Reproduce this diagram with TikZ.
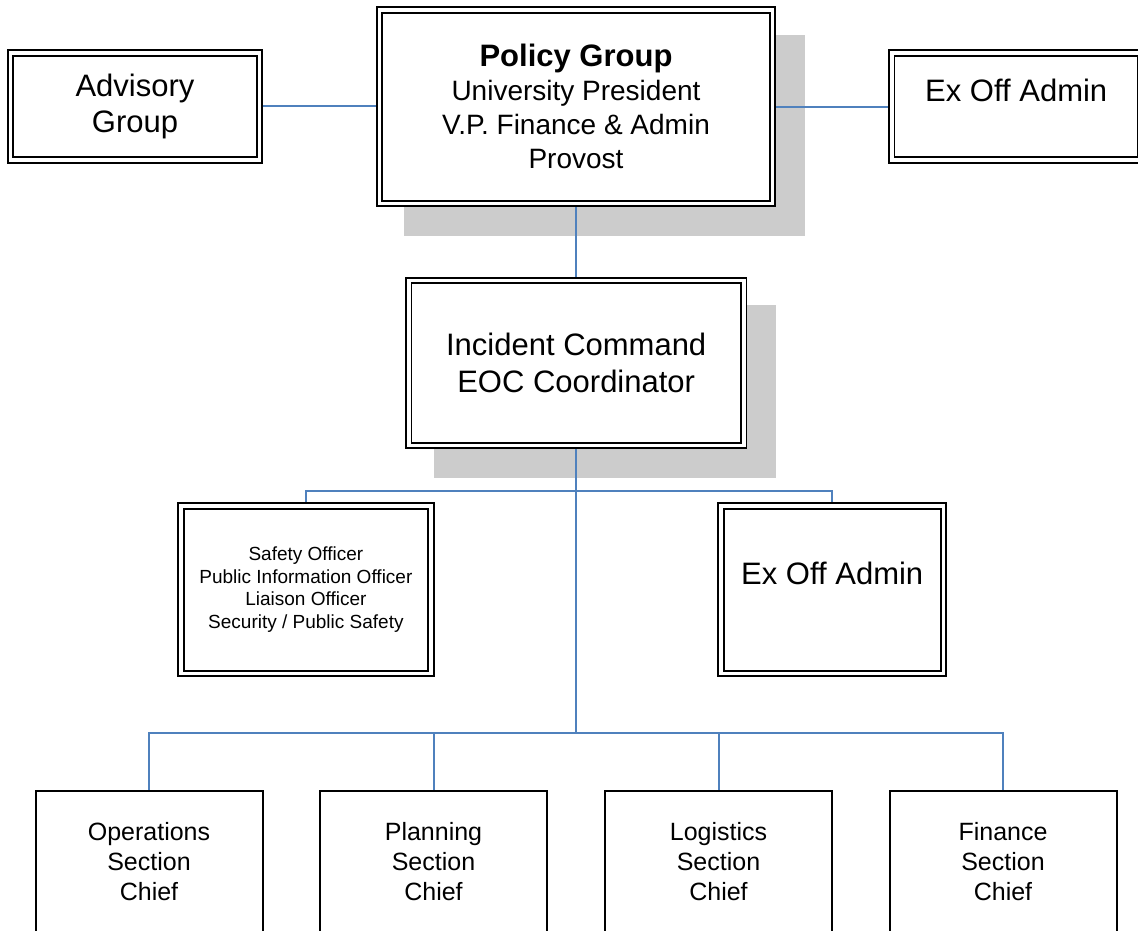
\documentclass[tikz,border=0pt]{standalone}
\usepackage{fontspec}
\setmainfont{Liberation Sans}
\definecolor{linkblue}{RGB}{79,129,189}
\definecolor{shadowgray}{RGB}{204,204,204}
\pgfdeclarelayer{shadowlayer}
\pgfdeclarelayer{linelayer}
\pgfsetlayers{shadowlayer,linelayer,main}
\begin{document}
\begin{tikzpicture}[x=1pt,y=-1pt,
  dbox/.style={draw=black, double=white, line width=1.9pt, double distance=3.6pt,
    fill=white, inner sep=0pt, outer sep=0pt, align=center},
  sbox/.style={draw=black, line width=2pt, fill=white, inner sep=0pt, outer sep=0pt,
    align=center, minimum width=227pt, minimum height=142pt,
    font=\fontsize{25}{30}\selectfont},
  link/.style={draw=linkblue, line width=2pt},
  shadowfill/.style={fill=shadowgray}]
\useasboundingbox (0,0) rectangle (1138,930);

% boxes
\node[dbox, minimum width=249pt, minimum height=107pt, font=\fontsize{31}{36}\selectfont]
  (adv) at (135,106.4) {Advisory\\Group};
\node[dbox, minimum width=393pt, minimum height=193.3pt, font=\fontsize{28}{34}\selectfont]
  (pol) at (576,106.7) {{\fontsize{31}{34}\selectfont\bfseries Policy Group}\\University President\\V.P. Finance \& Admin\\Provost};
\node[dbox, minimum width=249pt, minimum height=107pt, font=\fontsize{31}{36}\selectfont]
  (exa) at (1016.2,106.4) {Ex Off Admin\\[-3pt]\phantom{E}};
\node[dbox, minimum width=335pt, minimum height=164.8pt, font=\fontsize{31}{37}\selectfont]
  (ic) at (576.2,362.9) {Incident Command\\EOC Coordinator};
\node[dbox, minimum width=249.8pt, minimum height=167.5pt, font=\fontsize{19}{22.7}\selectfont]
  (staff) at (305.9,589.6) {Safety Officer\\Public Information Officer\\Liaison Officer\\Security / Public Safety};
\node[dbox, minimum width=222.3pt, minimum height=167.5pt, font=\fontsize{31}{36}\selectfont]
  (exb) at (832.2,589.6) {Ex Off Admin\\[-3pt]\phantom{E}};

\node[sbox] (ops)  at (149,862)   {Operations\\Section\\Chief};
\node[sbox] (plan) at (433.5,862) {Planning\\Section\\Chief};
\node[sbox] (log)  at (718.5,862) {Logistics\\Section\\Chief};
\node[sbox] (fin)  at (1003,862)  {Finance\\Section\\Chief};

% shadows
\begin{pgfonlayer}{shadowlayer}
\fill[shadowfill] ([shift={(24.8,24.8)}]pol.north west) rectangle ([shift={(32.2,32.2)}]pol.south east);
\fill[shadowfill] ([shift={(24.8,24.8)}]ic.north west) rectangle ([shift={(32.2,32.2)}]ic.south east);
\end{pgfonlayer}

% connectors
\coordinate (busA) at (576,491);
\coordinate (busB) at (576,733);
\begin{pgfonlayer}{linelayer}
\draw[link] (adv.east) -- (adv.east -| pol.west);
\draw[link] (pol.east) -- (pol.east -| exa.west);
\draw[link] (pol.south) -- (pol.south |- ic.north);
\draw[link] (staff.north) |- (busA) -| (exb.north);
\draw[link] (ic.south) -- (ic.south |- busB);
\draw[link] (ops.north) |- (busB) -| (fin.north);
\draw[link] (plan.north) -- (plan.north |- busB);
\draw[link] (log.north) -- (log.north |- busB);
\end{pgfonlayer}
\end{tikzpicture}
\end{document}
